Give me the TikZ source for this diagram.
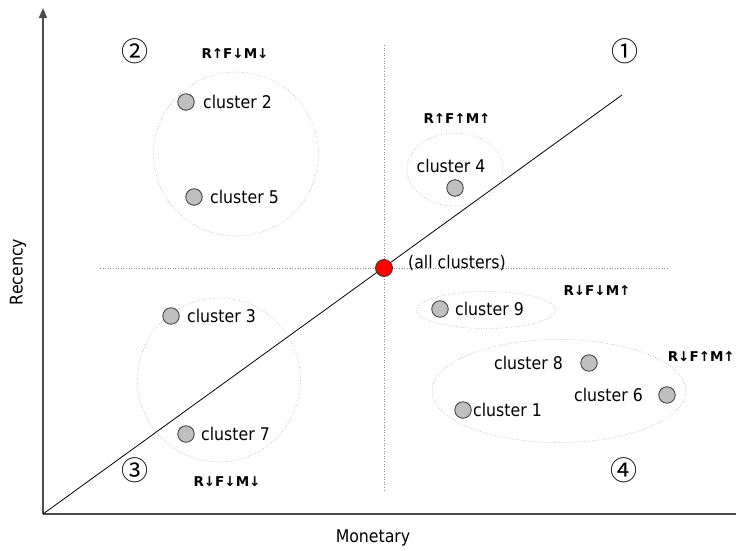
\documentclass[tikz,border=0pt]{standalone}
\usepackage{fontspec}
\setmainfont{DejaVu Sans Condensed}
\newfontfamily\symfont{DejaVu Sans}
\newfontfamily\cjk{Noto Sans CJK JP}
\usetikzlibrary{arrows.meta,shapes.geometric}
\begin{document}
\begin{tikzpicture}[x=1pt,y=-1pt,
 lbl/.style={font=\fontsize{17.5}{20}\selectfont, inner sep=0pt},
 tag/.style={font=\symfont\bfseries\fontsize{13.5}{15}\selectfont, inner sep=0pt},
 quad/.style={font=\cjk\fontsize{27}{30}\selectfont, inner sep=0pt},
 dot/.style={circle, draw=black!80, fill=black!25, minimum size=16.5pt, inner sep=0pt, line width=0.8pt},
 grp/.style={ellipse, draw=black!45, dotted, line width=0.5pt, inner sep=0pt},
 guide/.style={draw=black!45, dotted, line width=0.6pt},
 axis/.style={draw=black!70, line width=1.5pt}]
\useasboundingbox (0,0) rectangle (736,550);
% guides
\coordinate (hl) at (100,268);
\coordinate (hr) at (668,268);
\coordinate (vt) at (384,45);
\coordinate (vb) at (384,490);
\draw[guide] (hl) -- (hr);
\draw[guide] (vt) -- (vb);
% group outlines
\node[grp, minimum width=165pt, minimum height=164pt] (g25) at (236,154) {};
\node[grp, minimum width=163pt, minimum height=164pt] (g37) at (219,380) {};
\node[grp, minimum width=96pt, minimum height=73pt] (g4) at (455,169.5) {};
\node[grp, minimum width=139pt, minimum height=37pt] (g9) at (486,310) {};
\node[grp, minimum width=254pt, minimum height=103pt] (g168) at (559,391) {};
% axes
\coordinate (O) at (43,514);
\coordinate (ytop) at (43,8);
\coordinate (xend) at (736,514);
\draw[axis, -{Triangle[width=8pt,length=10pt]}] (O) -- (ytop);
\draw[axis] (O) -- (xend);
% diagonal
\coordinate (dend) at (622,95);
\draw[black, line width=0.8pt] (O) -- (dend);
% center
\node[circle, draw=black!80, fill=red, minimum size=17pt, inner sep=0pt, line width=0.8pt] (all) at (384,268) {};
\node[lbl, anchor=west] (allt) at (408,263) {(all clusters)};
% clusters
\node[dot] (c2) at (186,102) {};
\node[lbl, anchor=west] (c2t) at (203,102) {cluster 2};
\node[dot] (c5) at (194,197) {};
\node[lbl, anchor=west] (c5t) at (210,197) {cluster 5};
\node[dot] (c3) at (171,316) {};
\node[lbl, anchor=west] (c3t) at (187,316) {cluster 3};
\node[dot] (c7) at (186,434) {};
\node[lbl, anchor=west] (c7t) at (201,434) {cluster 7};
\node[dot] (c4) at (455,188) {};
\node[lbl] (c4t) at (451,166) {cluster 4};
\node[dot] (c9) at (440,309) {};
\node[lbl, anchor=west] (c9t) at (455,309) {cluster 9};
\node[dot] (c8) at (589,363) {};
\node[lbl, anchor=west] (c8t) at (494,363) {cluster 8};
\node[dot] (c6) at (667,395) {};
\node[lbl, anchor=west] (c6t) at (574,395) {cluster 6};
\node[dot] (c1) at (463,410) {};
\node[lbl, anchor=west] (c1t) at (473,410) {cluster 1};
% tags
\node[tag] (t2) at (235,54) {R↑F↓M↓};
\node[tag] (t1) at (457,119) {R↑F↑M↑};
\node[tag] (t9) at (597,291) {R↓F↓M↑};
\node[tag, anchor=east] (t6) at (735,357) {R↓F↑M↑};
\node[tag] (t3) at (227,482) {R↓F↓M↓};
% quadrant numbers
\node[quad] (q1) at (625,51) {①};
\node[quad] (q2) at (135,51) {②};
\node[quad] (q3) at (135,470) {③};
\node[quad] (q4) at (624,470) {④};
% axis labels
\node[lbl, rotate=90] (ylab) at (18,272) {Recency};
\node[lbl] (xlab) at (373,538) {Monetary};
\end{tikzpicture}
\end{document}
